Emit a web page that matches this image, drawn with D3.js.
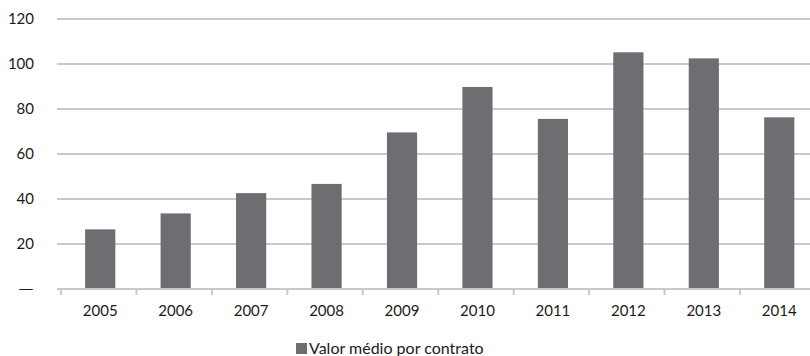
<!DOCTYPE html>
<html>
<head>
<meta charset="utf-8">
<script src="https://cdn.jsdelivr.net/npm/d3@7/dist/d3.min.js"></script>
<style>
  html, body { margin: 0; padding: 0; background: #fff; }
  svg { display: block; font-family: Lato, "Open Sans", sans-serif; }
</style>
</head>
<body>
<svg id="chart" width="810" height="356"></svg>
<script>
// Average contract value per year
const years = ["2005","2006","2007","2008","2009","2010","2011","2012","2013","2014"];
const values = [26.5, 33.6, 42.6, 46.7, 69.6, 89.8, 75.6, 105.2, 102.5, 76.3];
const yTicks = [0, 20, 40, 60, 80, 100, 120];
const yTickLabels = ["—", "20", "40", "60", "80", "100", "120"];
const seriesName = "Valor médio por contrato";

const svg = d3.select("#chart");
const barColor = "#6d6e71";
const gridColor = "#c9c9c9";
const textColor = "#1a1a1a";

const plotLeft = 57, plotRight = 810;
const x = d3.scaleBand().domain(years).range([61, 818.5]).paddingInner(0.6).paddingOuter(0.32);
const y = d3.scaleLinear().domain([0, 120]).range([289, 19]);

// horizontal gridlines
svg.append("g").selectAll("line")
  .data(yTicks.filter(t => t > 0))
  .join("line")
  .attr("x1", plotLeft).attr("x2", plotRight)
  .attr("y1", d => y(d)).attr("y2", d => y(d))
  .attr("stroke", gridColor).attr("stroke-width", 2);

// y tick labels (zero is shown as a long dash)
svg.append("g").selectAll("text")
  .data(yTicks)
  .join("text")
  .attr("x", 34)
  .attr("y", d => y(d))
  .attr("dy", "0.36em")
  .attr("text-anchor", "end")
  .attr("font-size", 15)
  .attr("fill", textColor)
  .each(function(d, i) {
    const t = d3.select(this).text(yTickLabels[i]);
    if (d === 0) t.attr("textLength", 16).attr("lengthAdjust", "spacingAndGlyphs");
  });

// bars
svg.append("g").selectAll("rect")
  .data(years.map((yr, i) => ({ yr, v: values[i] })))
  .join("rect")
  .attr("x", d => x(d.yr))
  .attr("width", x.bandwidth())
  .attr("y", d => y(d.v))
  .attr("height", d => y(0) - y(d.v))
  .attr("fill", barColor);

// x axis line and band-boundary ticks
svg.append("line")
  .attr("x1", plotLeft).attr("x2", plotRight)
  .attr("y1", y(0)).attr("y2", y(0))
  .attr("stroke", gridColor).attr("stroke-width", 2);

const step = x.step();
const bandStart = x.range()[0];
svg.append("g").selectAll("line")
  .data(d3.range(years.length + 1))
  .join("line")
  .attr("x1", i => bandStart + i * step).attr("x2", i => bandStart + i * step)
  .attr("y1", y(0)).attr("y2", y(0) + 6)
  .attr("stroke", gridColor).attr("stroke-width", 2);

// x labels
svg.append("g").selectAll("text")
  .data(years)
  .join("text")
  .attr("x", d => x(d) + x.bandwidth() / 2)
  .attr("y", 316)
  .attr("text-anchor", "middle")
  .attr("font-size", 15)
  .attr("fill", textColor)
  .text(d => d);

// legend
const legend = svg.append("g");
legend.append("rect")
  .attr("x", 296).attr("y", 343).attr("width", 11).attr("height", 11)
  .attr("fill", barColor);
legend.append("text")
  .attr("x", 309).attr("y", 354)
  .attr("font-size", 16)
  .attr("fill", textColor)
  .text(seriesName);
</script>
</body>
</html>
